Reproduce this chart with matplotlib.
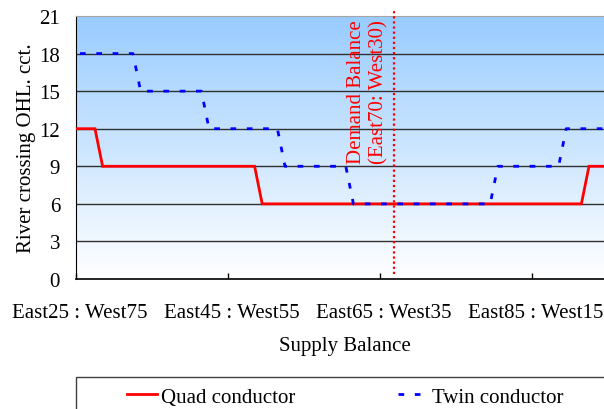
import numpy as np
import matplotlib
matplotlib.use("Agg")
import matplotlib.pyplot as plt
from matplotlib.patches import Rectangle
from matplotlib.lines import Line2D
import matplotlib.transforms as mtransforms

plt.rcParams['font.family'] = ['Liberation Serif', 'DejaVu Serif']

# ---- data (x = East share of supply, %) ----
tick_positions = [25, 45, 65, 85]
tick_labels = ["East25 : West75", "East45 : West55", "East65 : West35", "East85 : West15"]
y_ticks = [0, 3, 6, 9, 12, 15, 18, 21]

quad_x = [25, 27.5, 28.5, 48.5, 49.5, 91.5, 92.5, 96]
quad_y = [12, 12, 9, 9, 6, 6, 9, 9]

twin_x = [25, 32.5, 33.5, 41.5, 42.5, 51.5, 52.5, 60.5, 61.5, 79.5, 80.5, 88.5, 89.5, 96]
twin_y = [18, 18, 15, 15, 12, 12, 9, 9, 6, 6, 9, 9, 12, 12]

demand_x = 66.9
demand_label = "Demand Balance\n(East70: West30)"

W, H = 604, 410
fig = plt.figure(figsize=(W / 100, H / 100), dpi=100)
ax = fig.add_axes([76 / W, 1 - 280 / H, 532 / W, 263 / H])
ax.set_xlim(25, 95)
ax.set_ylim(0, 21)

# gradient background
grad = np.linspace(0, 1, 256).reshape(-1, 1)
top = np.array([0.60, 0.80, 1.00])
bot = np.array([1.00, 1.00, 1.00])
img = top[None, None, :] * (1 - grad[:, :, None]) + bot[None, None, :] * grad[:, :, None]
ax.imshow(img, extent=[25, 95, 0, 21], aspect='auto', origin='upper', zorder=0)

# gridlines
for yv in y_ticks[1:-1]:
    ax.axhline(yv, color='#303030', lw=1.0, zorder=1)

ax.plot(quad_x, quad_y, color='#FF0000', lw=2.0, zorder=3, solid_joinstyle='miter',
        label='Quad conductor')
ax.plot(twin_x, twin_y, color='#0000FF', lw=2.0, zorder=4,
        linestyle=(4.43, (2.05, 3.82)), label='Twin conductor')

ax.plot([demand_x, demand_x], [0.4, 21.4], color='#FF0000', lw=1.6,
        linestyle=(0, (1, 1.3)), zorder=5, clip_on=False)
ax.text(demand_x - 3.5, 15.0, demand_label, rotation=90, ha='center', va='center',
        multialignment='center', color='#FF0000', fontsize=15, linespacing=1.25, zorder=6)

# axes styling
ax.spines['right'].set_visible(False)
ax.spines['top'].set_color('#A6A6A6')
ax.spines['left'].set_color('black')
ax.spines['bottom'].set_color('black')
ax.spines['bottom'].set_linewidth(1.2)

ax.set_yticks(y_ticks)
ax.set_yticklabels([str(v) for v in y_ticks])
ax.tick_params(axis='y', length=0, pad=11.5, labelsize=15)
ax.set_xticks(tick_positions)
ax.set_xticklabels(tick_labels)
ax.tick_params(axis='x', direction='in', length=4.3, width=1, pad=17.5, labelsize=15)
offset = mtransforms.ScaledTranslation(3.5 / 100, 0, fig.dpi_scale_trans)
for lab in ax.get_xticklabels():
    lab.set_transform(lab.get_transform() + offset)

ax.set_ylabel("River crossing OHL. cct.", fontsize=15)
ax.yaxis.set_label_coords((36 - 76) / 532, 0.5)
ax.set_xlabel("Supply Balance", fontsize=15)
ax.xaxis.set_label_coords((345 - 76) / 532, (280 - 346) / 263)
ax.xaxis.label.set_va('center')

# legend
handles = [Line2D([], [], color='#FF0000', lw=2.0),
           Line2D([], [], color='#0000FF', lw=2.0, linestyle=(0, (2.05, 3.82)))]
leg = fig.legend(handles, ['Quad conductor', 'Twin conductor'], loc='center left',
                 bbox_to_anchor=(127 / W, 1 - 398 / H), ncol=2, frameon=False,
                 borderpad=0, borderaxespad=0, handlelength=1.45, handletextpad=0.2,
                 columnspacing=4.9, fontsize=15)
rect = Rectangle((76 / W, -0.1), (615 - 76) / W, 0.1 + (1 - 378 / H),
                 transform=fig.transFigure, fill=False, edgecolor='#404040', lw=1.0)
fig.add_artist(rect)

fig.savefig("out.png", dpi=100)
